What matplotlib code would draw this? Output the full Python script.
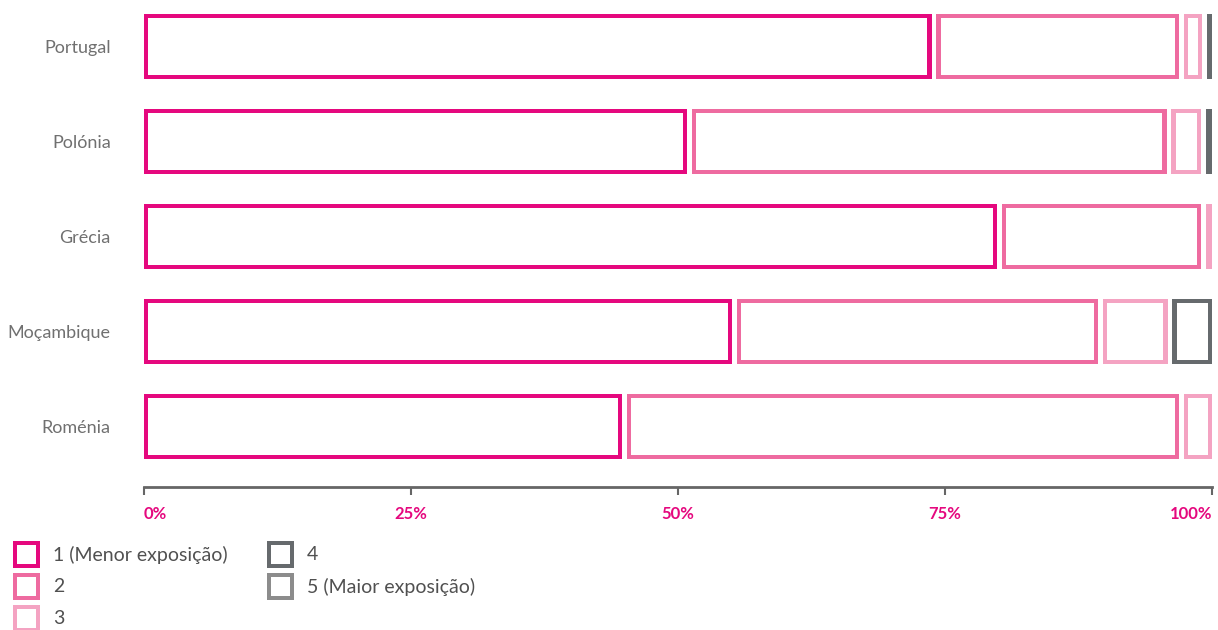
import matplotlib.pyplot as plt
from matplotlib.patches import Rectangle

countries = ['Portugal', 'Polónia', 'Grécia', 'Moçambique', 'Roménia']
nivel1 = [74.2, 51.3, 80.3, 55.5, 45.2]
nivel2 = [23.2, 44.9, 19.1, 34.3, 52.2]
nivel3 = [2.1, 3.2, 0.6, 6.5, 2.6]
nivel4 = [0.5, 0.6, 0.0, 3.7, 0.0]
nivel5 = [0.0, 0.0, 0.0, 0.0, 0.0]
series = [nivel1, nivel2, nivel3, nivel4, nivel5]
legend_labels = ['1 (Menor exposição)', '2', '3', '4', '5 (Maior exposição)']
colors = ['#e5087e', '#ee6ba0', '#f4a3c2', '#666a6d', '#8c8c8c']
tick_vals = [0, 25, 50, 75, 100]
tick_labels = ['0%', '25%', '50%', '75%', '100%']

plt.rcParams['font.family'] = ['Lato', 'DejaVu Sans']

W, H = 1218, 630
fig = plt.figure(figsize=(W / 100, H / 100), dpi=100)
x0, x1 = 144, 1212
y_top, y_axis = 0, 487
ax = fig.add_axes([x0 / W, (H - y_axis) / H, (x1 - x0) / W, (y_axis - y_top) / H])

row = 95.0
first_center = 46.5
ax.set_xlim(0, 100)
ax.set_ylim((y_axis - first_center) / row, -first_center / row)

px_x = 100 / (x1 - x0)
px_y = 1 / row
lw_px = 4.2
gap_px = 4.8
bar_h = 65 * px_y


def hollow(ax, left, width, yc, color):
    if width <= 0:
        return
    bottom = yc - bar_h / 2
    ax.add_patch(Rectangle((left, bottom), width, bar_h, facecolor=color, edgecolor='none'))
    iw = width - 2 * lw_px * px_x
    ih = bar_h - 2 * lw_px * px_y
    if iw > 0:
        ax.add_patch(Rectangle((left + lw_px * px_x, bottom + lw_px * px_y), iw, ih,
                               facecolor='white', edgecolor='none'))


for i, c in enumerate(countries):
    start = 0.0
    for s, vals in enumerate(series):
        v = vals[i]
        if v <= 0:
            continue
        end = start + v
        w = v - gap_px * px_x if end < 99.9 else v
        hollow(ax, start, w, i, colors[s])
        start = end

ax.set_yticks(range(len(countries)))
ax.set_yticklabels(countries, fontsize=13, color='#707070')
ax.tick_params(axis='y', length=0, pad=24)
ax.set_xticks(tick_vals)
ax.set_xticklabels(tick_labels, fontsize=12, color='#e5087e', fontweight='bold')
ax.tick_params(axis='x', length=6, width=1.5, color='#666666', pad=8)
xl = ax.get_xticklabels()
xl[0].set_ha('left')
xl[-1].set_ha('right')
for sp in ['top', 'right', 'left']:
    ax.spines[sp].set_visible(False)
ax.spines['bottom'].set_color('#666666')
ax.spines['bottom'].set_linewidth(2)

# legend
lax = fig.add_axes([0, 0, 1, 1])
lax.set_xlim(0, W)
lax.set_ylim(H, 0)
lax.axis('off')
positions = [(13, 541), (13, 573), (13, 605), (267, 541), (267, 573)]
sq = 27
for (lx, ly), col, lab in zip(positions, colors, legend_labels):
    lax.add_patch(Rectangle((lx, ly), sq, sq, facecolor=col, edgecolor='none'))
    lax.add_patch(Rectangle((lx + 4, ly + 4), sq - 8, sq - 8, facecolor='white', edgecolor='none'))
    lax.text(lx + sq + 13, ly + sq / 2, lab, fontsize=14, color='#505050', va='center', ha='left')

fig.savefig('out.png', dpi=100, facecolor='white')
